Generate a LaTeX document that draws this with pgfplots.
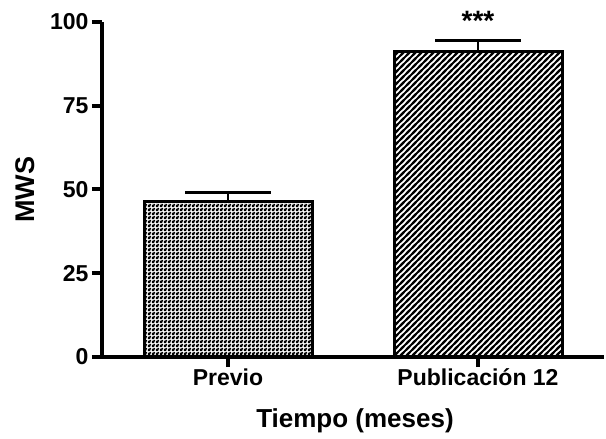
\documentclass[border=0pt]{standalone}
\usepackage{fontspec}
\setmainfont{Liberation Sans}
\usepackage{pgfplots}
\pgfplotsset{compat=1.18}
\usetikzlibrary{patterns}

\pgfdeclarepatternformonly{checker}{\pgfpointorigin}{\pgfqpoint{2pt}{2pt}}{\pgfqpoint{2pt}{2pt}}{%
  \pgfpathrectangle{\pgfpointorigin}{\pgfqpoint{2pt}{2pt}}%
  \pgfpathrectangle{\pgfqpoint{1.15pt}{0.15pt}}{\pgfqpoint{0.7pt}{0.7pt}}%
  \pgfpathrectangle{\pgfqpoint{0.15pt}{1.15pt}}{\pgfqpoint{0.7pt}{0.7pt}}%
  \pgfseteorule
  \pgfusepath{fill}}
\pgfdeclarepatternformonly{thicklines}{\pgfqpoint{-1pt}{-1pt}}{\pgfqpoint{4pt}{4pt}}{\pgfqpoint{3pt}{3pt}}{%
  \pgfsetlinewidth{0.95pt}%
  \pgfpathmoveto{\pgfqpoint{-1pt}{-1pt}}\pgfpathlineto{\pgfqpoint{4pt}{4pt}}%
  \pgfpathmoveto{\pgfqpoint{-1pt}{2pt}}\pgfpathlineto{\pgfqpoint{1pt}{4pt}}%
  \pgfpathmoveto{\pgfqpoint{2pt}{-1pt}}\pgfpathlineto{\pgfqpoint{4pt}{1pt}}%
  \pgfusepath{stroke}}

\begin{document}
\begin{tikzpicture}
\begin{axis}[
  name=ax,
  scale only axis, width=251pt, height=167.5pt,
  xmin=-0.504, xmax=1.504, ymin=0, ymax=100,
  enlargelimits=false, clip=false,
  axis x line*=bottom, axis y line*=left,
  axis line style={line width=2.3pt, black},
  ytick={0,25,50,75,100},
  xtick={0,1}, xticklabels={Previo, Publicación 12},
  tick align=outside, major tick length=5pt,
  every tick/.style={line width=2pt, black},
  /pgf/number format/assume math mode=true,
  tick label style={font=\fontsize{11.5}{13}\selectfont\bfseries},
  yticklabel style={xshift=1.8pt},
  xticklabel style={text height=8pt, text depth=2pt, yshift=2.5pt},
  ylabel={MWS},
  ylabel style={at={(axis description cs:-0.153,0.5)}, anchor=center,
    font=\fontsize{13.5}{15}\selectfont\bfseries},
  xlabel={Tiempo (meses)},
  xlabel style={at={(axis description cs:0.504,-0.19)}, anchor=center,
    font=\fontsize{13}{15}\selectfont\bfseries},
  ybar, bar width=84pt, bar shift=0pt,
]
\addplot[draw=black, line width=1.5pt, pattern=checker, pattern color=black,
  error bars/.cd, y dir=plus, y explicit, error mark=|,
  error bar style={line width=1pt, black},
  error mark options={line width=1.5pt, mark size=21.5pt, black}]
  coordinates {(0,46.3) +- (0,2.9)};
\addplot[draw=black, line width=1.5pt, pattern=thicklines, pattern color=black,
  error bars/.cd, y dir=plus, y explicit, error mark=|,
  error bar style={line width=1pt, black},
  error mark options={line width=1.5pt, mark size=21.5pt, black}]
  coordinates {(1,91.25) +- (0,3.15)};
\node[anchor=base, font=\fontsize{14}{16}\selectfont\bfseries] at (axis cs:1,97.6) {***};
\end{axis}
\pgfresetboundingbox
\path ([xshift=-51pt,yshift=-40.5pt]ax.south west) rectangle ([xshift=1pt,yshift=11pt]ax.north east);
\end{tikzpicture}
\end{document}
